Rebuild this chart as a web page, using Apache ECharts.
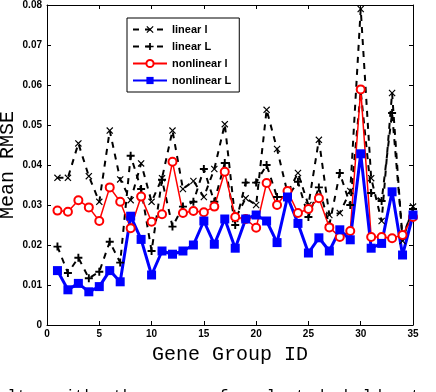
<!DOCTYPE html>
<html>
<head>
<meta charset="utf-8">
<script src="https://cdn.jsdelivr.net/npm/echarts@6/dist/echarts.min.js"></script>
<style>
html,body{margin:0;padding:0;background:#fff;}
#c{width:436px;height:392px;}
</style>
</head>
<body>
<div id="c"></div>
<script>
// Gene group IDs 1..35
const groupIds = [1,2,3,4,5,6,7,8,9,10,11,12,13,14,15,16,17,18,19,20,21,22,23,24,25,26,27,28,29,30,31,32,33,34,35];
const linearSmallL = [0.0368,0.0368,0.0454,0.0372,0.0308,0.0486,0.0364,0.0312,0.0404,0.0308,0.0367,0.0486,0.034,0.036,0.032,0.039,0.0502,0.0265,0.0317,0.030,0.0538,0.044,0.033,0.038,0.030,0.0463,0.0275,0.028,0.0335,0.079,0.0367,0.026,0.058,0.021,0.0296];
const linearBigL = [0.0196,0.013,0.0168,0.0117,0.0133,0.0208,0.0156,0.0423,0.034,0.0185,0.0363,0.0246,0.0296,0.0308,0.039,0.0308,0.0405,0.025,0.0356,0.0356,0.040,0.032,0.032,0.0358,0.027,0.0344,0.025,0.038,0.030,0.0585,0.033,0.031,0.053,0.022,0.029];
const nonlinearSmallL = [0.0286,0.0283,0.0312,0.0294,0.026,0.0344,0.0308,0.0242,0.0321,0.0258,0.0277,0.0408,0.028,0.0285,0.0282,0.0296,0.0383,0.027,0.0265,0.0243,0.0355,0.030,0.0335,0.028,0.029,0.0317,0.0244,0.022,0.0235,0.0589,0.022,0.022,0.0217,0.0225,0.027];
const nonlinearBigL = [0.0136,0.0088,0.0104,0.0083,0.0096,0.0136,0.0108,0.0272,0.0214,0.0125,0.0185,0.0177,0.0185,0.020,0.026,0.0202,0.0265,0.0192,0.0265,0.0275,0.026,0.0206,0.032,0.0254,0.018,0.0218,0.0185,0.0238,0.0213,0.0428,0.0192,0.0204,0.0333,0.0175,0.0275];
const seriesNames = ['linear l','linear L','nonlinear l','nonlinear L'];
const xTicks = [0,5,10,15,20,25,30,35];
const yTicks = ['0','0.01','0.02','0.03','0.04','0.05','0.06','0.07','0.08'];

const pairs = arr => arr.map((v,i)=>[groupIds[i], v]);
const xSym = 'path://M0,1.2L1.2,0L5,3.8L8.8,0L10,1.2L6.2,5L10,8.8L8.8,10L5,6.2L1.2,10L0,8.8L3.8,5Z';
const plusSym = 'path://M3.8,0H6.2V3.8H10V6.2H6.2V10H3.8V6.2H0V3.8H3.8Z';
const labelFont = {fontFamily:'Liberation Sans, Arial, sans-serif', fontWeight:'bold', fontSize:10, color:'#000'};

const chart = echarts.init(document.getElementById('c'), null, {renderer:'canvas'});
chart.setOption({
  animation:false,
  backgroundColor:'#fff',
  grid:{left:47, right:23, top:5, bottom:67, containLabel:false, outerBoundsMode:'none'},
  legend:{
    orient:'vertical', left:127, top:18,
    data:seriesNames,
    itemWidth:34, itemHeight:9, itemGap:6,
    padding:[6,8,6,5],
    borderColor:'#000', borderWidth:1, backgroundColor:'#fff',
    textStyle:{fontFamily:'Liberation Sans, Arial, sans-serif', fontWeight:'bold', fontSize:11, color:'#000'}
  },
  xAxis:[{
    type:'value', min:0, max:35, interval:5,
    name:'Gene Group ID', nameLocation:'middle', nameGap:20, nameMoveOverlap:false,
    nameTextStyle:{fontFamily:'Liberation Mono, Courier New, monospace', fontSize:20, color:'#000'},
    axisLine:{show:true, onZero:false, lineStyle:{color:'#000', width:1}},
    axisTick:{show:true, inside:true, length:4, lineStyle:{color:'#000'}},
    axisLabel:Object.assign({margin:4, formatter:v=>String(v)}, labelFont),
    splitLine:{show:false}
  },{
    type:'value', min:0, max:35, interval:5, position:'top',
    axisLine:{show:true, onZero:false, lineStyle:{color:'#000', width:1}},
    axisTick:{show:true, inside:true, length:4, lineStyle:{color:'#000'}},
    axisLabel:{show:false}, splitLine:{show:false}
  }],
  yAxis:[{
    type:'value', min:0, max:0.08, interval:0.01,
    name:'Mean RMSE', nameLocation:'middle', nameGap:29, nameMoveOverlap:false,
    nameTextStyle:{fontFamily:'Liberation Mono, Courier New, monospace', fontSize:20, color:'#000'},
    axisLine:{show:true, onZero:false, lineStyle:{color:'#000', width:1}},
    axisTick:{show:true, inside:true, length:4, lineStyle:{color:'#000'}},
    axisLabel:Object.assign({margin:5, formatter:v=>yTicks[Math.round(v*100)]}, labelFont),
    splitLine:{show:false}
  },{
    type:'value', min:0, max:0.08, interval:0.01, position:'right',
    axisLine:{show:true, onZero:false, lineStyle:{color:'#000', width:1}},
    axisTick:{show:true, inside:true, length:4, lineStyle:{color:'#000'}},
    axisLabel:{show:false}, splitLine:{show:false}
  }],
  series:[
    {name:seriesNames[0], type:'line', data:pairs(linearSmallL),
     symbol:xSym, symbolSize:7, showAllSymbol:true,
     lineStyle:{color:'#000', width:2, type:[6,6]},
     itemStyle:{color:'#000'}},
    {name:seriesNames[1], type:'line', data:pairs(linearBigL),
     symbol:plusSym, symbolSize:8, showAllSymbol:true,
     lineStyle:{color:'#000', width:2, type:[6,6]},
     itemStyle:{color:'#000'}},
    {name:seriesNames[2], type:'line', data:pairs(nonlinearSmallL),
     symbol:'emptyCircle', symbolSize:8, showAllSymbol:true,
     lineStyle:{color:'#ff0000', width:1.5},
     itemStyle:{color:'#ff0000', borderColor:'#ff0000', borderWidth:1.5}},
    {name:seriesNames[3], type:'line', data:pairs(nonlinearBigL),
     symbol:'rect', symbolSize:9, showAllSymbol:true,
     lineStyle:{color:'#0000ff', width:3},
     itemStyle:{color:'#0000ff'}}
  ],
  graphic:[{
    type:'text', left:-2, top:389,
    style:{text:'ults  with  the  use  of  selected  hold-out  data', fontFamily:'Liberation Mono, monospace', fontSize:16, fill:'#000'}
  }]
});
</script>
</body>
</html>
